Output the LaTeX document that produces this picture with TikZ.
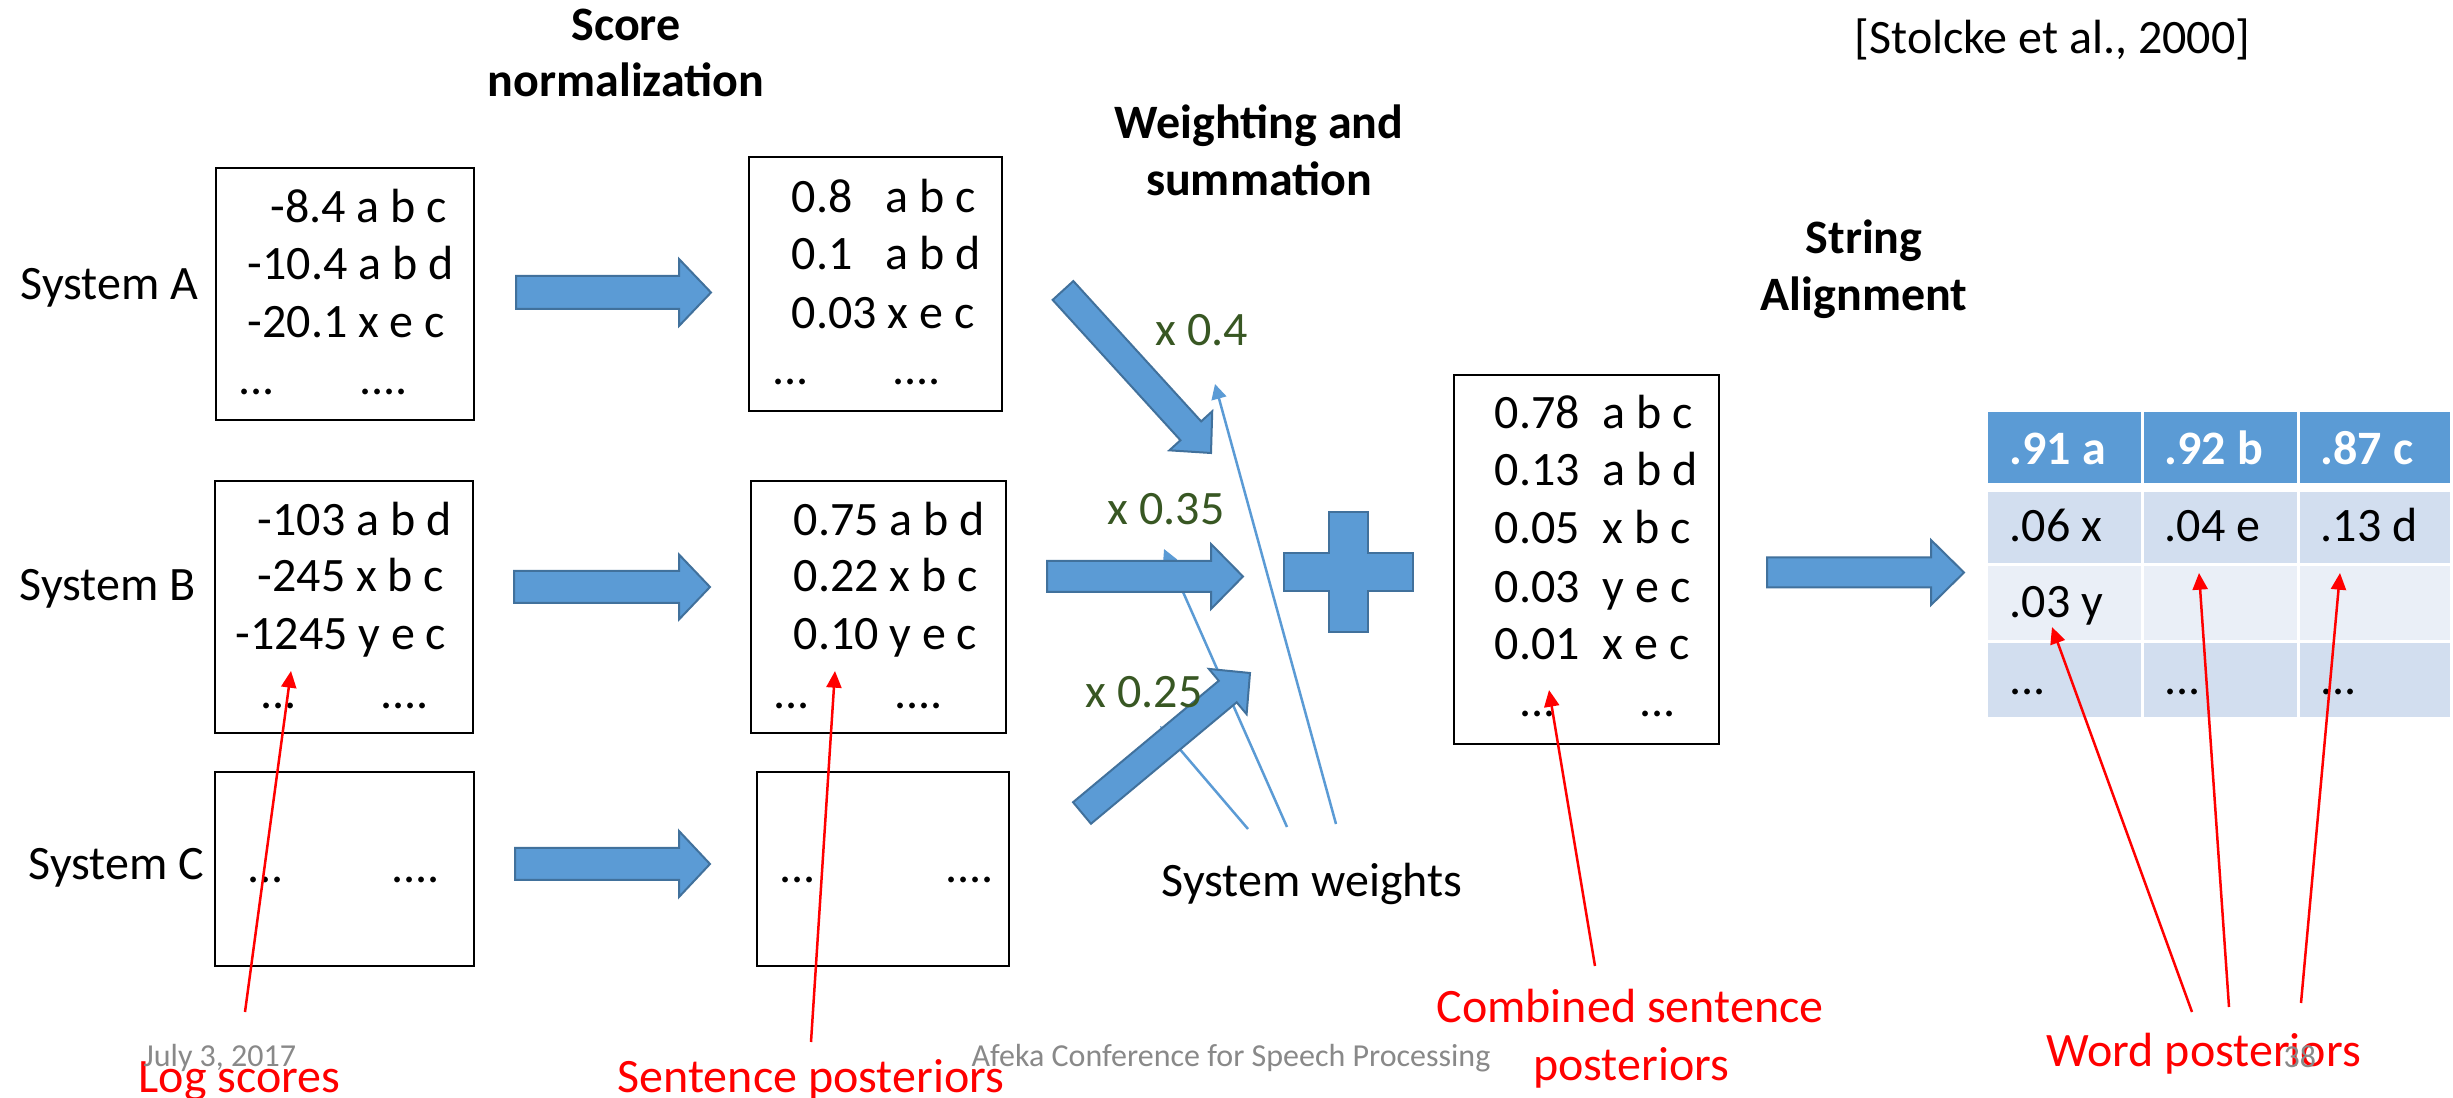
\documentclass[tikz,border=0pt]{standalone}
\usepackage{fontspec}
\setmainfont{Carlito}
\usetikzlibrary{calc,arrows.meta}

\definecolor{officeblue}{RGB}{91,155,213}
\definecolor{officeedge}{RGB}{65,113,156}
\definecolor{wgreen}{RGB}{56,87,35}
\definecolor{footgray}{RGB}{137,137,137}
\definecolor{rowdark}{RGB}{210,222,239}
\definecolor{rowlight}{RGB}{234,239,247}

% wide block arrow: tail, tip, half body width, half head width, head length
\newcommand\blockarrow[5]{%
  \coordinate (ba-h) at ($(#2)!#5!(#1)$);
  \draw[blockshape] ($(#1)!#3!90:(#2)$) -- ($(ba-h)!#3!90:(#2)$)
    -- ($(ba-h)!#4!90:(#2)$) -- (#2) -- ($(ba-h)!#4!-90:(#2)$)
    -- ($(ba-h)!#3!-90:(#2)$) -- ($(#1)!#3!-90:(#2)$) -- cycle;
}

\begin{document}
\begin{tikzpicture}[x=0.3pt,y=-0.3pt,
  body/.style={font=\fontsize{14.4pt}{17.3pt}\selectfont, inner sep=0pt, anchor=base west},
  title/.style={font=\fontsize{14.4pt}{17.3pt}\selectfont\bfseries, inner sep=0pt, anchor=base},
  note/.style={body, text=red},
  weight/.style={body, text=wgreen},
  cellhead/.style={body, font=\fontsize{14.4pt}{17.3pt}\selectfont\bfseries, text=white},
  foot/.style={font=\fontsize{9.6pt}{11.5pt}\selectfont, text=footgray, inner sep=0pt, anchor=base west},
  box/.style={draw=black, line width=0.75pt, inner sep=0pt},
  sz/.style n args={2}{minimum width={#1*0.3pt}, minimum height={#2*0.3pt}},
  blockshape/.style={fill=officeblue, draw=officeedge, line width=0.6pt, line join=miter},
  redptr/.style={draw=red, line width=0.75pt, -{Triangle[length=5pt,width=4.5pt]}},
  blueptr/.style={draw=officeblue, line width=0.75pt, -{Triangle[length=4.5pt,width=4.5pt]}},
]
\fill[white] (0,0) rectangle (2453,1098);
\useasboundingbox (0,0) rectangle (2453,1098);

% ---- headings
\node[title] (h1a) at (626,41) {Score};
\node[title] (h1b) at (626,97) {normalization};
\node[title] (h2a) at (1259,139) {Weighting and};
\node[title] (h2b) at (1259,196) {summation};
\node[title] (h3a) at (1864,254) {String};
\node[title] (h3b) at (1864,311) {Alignment};
\node[body] (cite) at (1854,54) {[Stolcke et al., 2000]};

% ---- system labels
\node[body] (sysA) at (20,300) {System A};
\node[body] (sysB) at (19,601) {System B};
\node[body] (sysC) at (28,880) {System C};

% ---- score boxes
\node[box, sz={258}{252}] (rawA) at (345,294) {};
\node[box, sz={253}{254}] (normA) at (875.5,284) {};
\node[box, sz={258}{252}] (rawB) at (344,607) {};
\node[box, sz={255}{252}] (normB) at (878.5,607) {};
\node[box, sz={259}{194}] (rawC) at (344.5,869) {};
\node[box, sz={252}{194}] (normC) at (883,869) {};
\node[box, sz={265}{369}] (comb) at (1586.5,559.5) {};

% ---- box contents
\foreach \x/\y/\t [count=\i] in {270/223/{-8.4 a b c}, 247/280/{-10.4 a b d},
    247/338/{-20.1 x e c}, 238/395/{...}, 359/395/{....}}
  \node[body] (rawA-\i) at (\x,\y) {\t};
\foreach \x/\y/\t [count=\i] in {791/213/{0.8}, 885/213/{a b c}, 791/270/{0.1},
    885/270/{a b d}, 791/329/{0.03 x e c}, 772/385/{...}, 892/385/{....}}
  \node[body] (normA-\i) at (\x,\y) {\t};
\foreach \x/\y/\t [count=\i] in {257/536/{-103 a b d}, 257/592/{-245 x b c},
    235/650/{-1245 y e c}, 260/709/{...}, 380/709/{....}}
  \node[body] (rawB-\i) at (\x,\y) {\t};
\foreach \x/\y/\t [count=\i] in {793/536/{0.75 a b d}, 793/592/{0.22 x b c},
    793/650/{0.10 y e c}, 773/709/{...}, 894/709/{....}}
  \node[body] (normB-\i) at (\x,\y) {\t};
\node[body] (rawC-1) at (247,883) {...};
\node[body] (rawC-2) at (391,883) {....};
\node[body] (normC-1) at (779,883) {...};
\node[body] (normC-2) at (945,883) {....};
\foreach \y/\n/\t [count=\i] in {429/0.78/{a b c}, 486/0.13/{a b d}, 544/0.05/{x b c},
    603/0.03/{y e c}, 660/0.01/{x e c}} {
  \node[body] (combn-\i) at (1494,\y) {\n};
  \node[body] (combw-\i) at (1602,\y) {\t};
}
\node[body] (combn-6) at (1519,717) {...};
\node[body] (combw-6) at (1639,717) {...};

% ---- word posterior table
\foreach \ya/\yb/\c in {412/483/officeblue, 492/563/rowdark, 566/640/rowlight, 643/717/rowdark}
  \foreach \xa/\xb in {1988/2141, 2144/2297, 2300/2450}
    \fill[\c] (\xa,\ya) rectangle (\xb,\yb);
\node[cellhead] (w11) at (2009,465) {.91 a};
\node[cellhead] (w12) at (2164,465) {.92 b};
\node[cellhead] (w13) at (2320,465) {.87 c};
\node[body] (w21) at (2009,542) {.06 x};
\node[body] (w22) at (2164,542) {.04 e};
\node[body] (w23) at (2320,542) {.13 d};
\node[body] (w31) at (2009,618) {.03 y};
\node[body] (w41) at (2009,695) {...};
\node[body] (w42) at (2164,695) {...};
\node[body] (w43) at (2320,695) {...};

% ---- system weight pointers (two of them pass under the block arrows)
\coordinate (sw1) at (1336,824);  \coordinate (sw1t) at (1215,384);
\coordinate (sw2) at (1287,827);  \coordinate (sw2t) at (1164,549);
\coordinate (sw3) at (1248,829);  \coordinate (sw3t) at (1160,726);
\draw[blueptr] (sw2) -- (sw2t);
\draw[blueptr] (sw3) -- (sw3t);
\draw[blueptr] (sw1) -- (sw1t);
\node[body] (sysw) at (1161,897) {System weights};

% ---- block arrows
\coordinate (pA0) at (516,292.5);   \coordinate (pA1) at (711,292.5);
\coordinate (pB0) at (514,587);     \coordinate (pB1) at (710,587);
\coordinate (pC0) at (515,864);     \coordinate (pC1) at (710,864);
\coordinate (pD0) at (1767,572.5);  \coordinate (pD1) at (1964,572.5);
\coordinate (wA0) at (1063,290.5);  \coordinate (wA1) at (1211,453);
\coordinate (wB0) at (1047,576.5);  \coordinate (wB1) at (1243,576.5);
\coordinate (wC0) at (1082,813);    \coordinate (wC1) at (1250,673);
\blockarrow{pA0}{pA1}{4.95pt}{10.05pt}{9.6pt}
\blockarrow{pB0}{pB1}{4.8pt}{9.75pt}{9.3pt}
\blockarrow{pC0}{pC1}{4.8pt}{9.9pt}{9.3pt}
\blockarrow{pD0}{pD1}{4.5pt}{9.75pt}{9.9pt}
\blockarrow{wA0}{wA1}{4.2pt}{8.7pt}{9pt}
\blockarrow{wB0}{wB1}{4.65pt}{9.75pt}{9.6pt}
\blockarrow{wC0}{wC1}{4.2pt}{8.85pt}{8.7pt}

% ---- summation sign
\draw[blockshape] (1329,512.5) -- (1368,512.5) -- (1368,553.5) -- (1413,553.5)
  -- (1413,591.5) -- (1368,591.5) -- (1368,632) -- (1329,632) -- (1329,591.5)
  -- (1284,591.5) -- (1284,553.5) -- (1329,553.5) -- cycle;

% ---- weights
\node[weight] (wtA) at (1155,346) {x 0.4};
\node[weight] (wtB) at (1107,525) {x 0.35};
\node[weight] (wtC) at (1085,708) {x 0.25};

% ---- red call-outs
\node[note] (lbLog) at (138,1092) {Log scores};
\node[note] (lbSent) at (617,1092) {Sentence posteriors};
\node[note, anchor=base] (lbComb1) at (1630,1023) {Combined sentence};
\node[note, anchor=base] (lbComb2) at (1631,1080) {posteriors};
\node[note] (lbWord) at (2046,1067) {Word posteriors};
\coordinate (rLog0) at (245,1012);   \coordinate (rLog1) at (291,671);
\coordinate (rSen0) at (811,1042);   \coordinate (rSen1) at (835,671);
\coordinate (rCom0) at (1595,966);   \coordinate (rCom1) at (1549,690);
\coordinate (rW10) at (2192,1012);   \coordinate (rW11) at (2052,627);
\coordinate (rW20) at (2229,1007);   \coordinate (rW21) at (2199,573);
\coordinate (rW30) at (2301,1003);   \coordinate (rW31) at (2340,573);
\draw[redptr] (rLog0) -- (rLog1);
\draw[redptr] (rSen0) -- (rSen1);
\draw[redptr] (rCom0) -- (rCom1);
\draw[redptr] (rW10) -- (rW11);
\draw[redptr] (rW20) -- (rW21);
\draw[redptr] (rW30) -- (rW31);

% ---- footer
\node[foot] (fdate) at (143,1067) {July 3, 2017};
\node[foot] (fconf) at (971,1067) {Afeka Conference for Speech Processing};
\node[foot] (fpage) at (2283,1068) {38};
\end{tikzpicture}
\end{document}
